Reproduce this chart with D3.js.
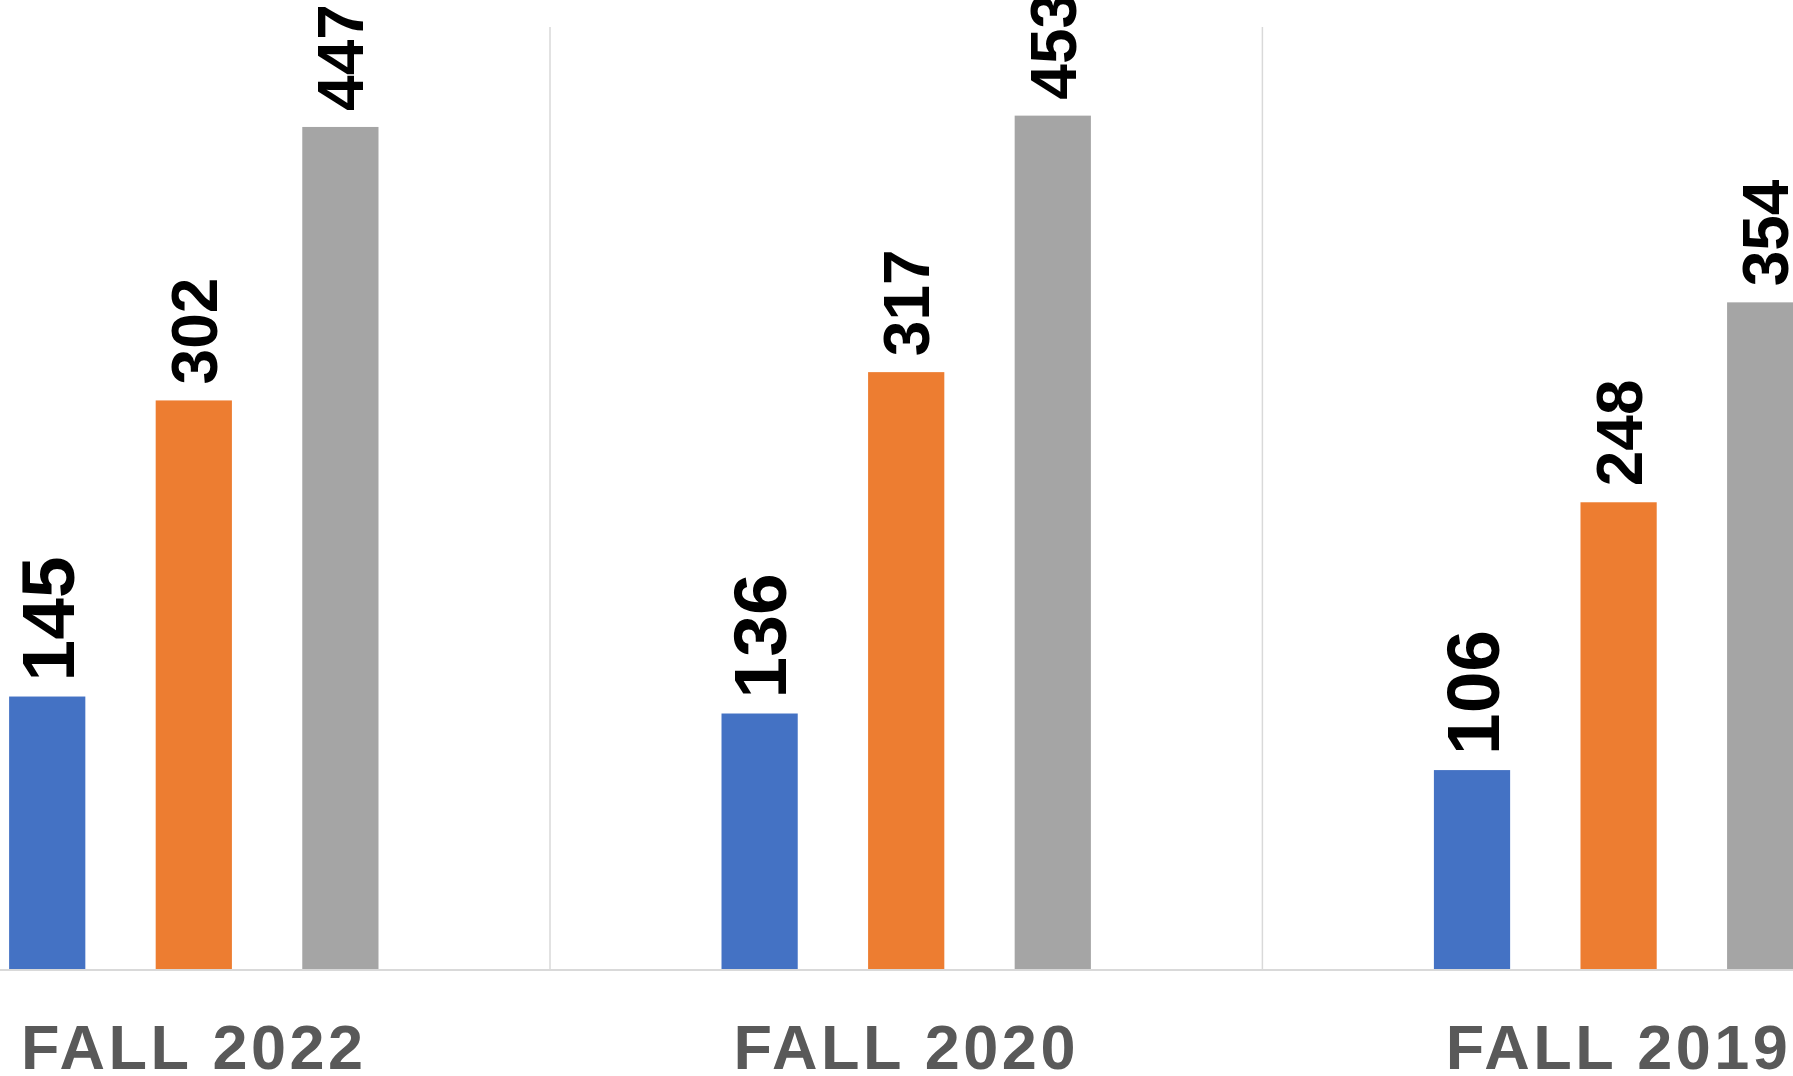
<!DOCTYPE html>
<meta charset="utf-8">
<html lang="en">
<head>
    <meta charset="UTF-8">
    <title>D3</title>
    <script src="https://d3js.org/d3.v7.min.js"></script>
    <style>
        body { margin: 0; background: #fff; }
    </style>
</head>
<body>
    <div id="viz"></div>
    <script>
        // data
        const categories = ["FALL 2022", "FALL 2020", "FALL 2019"];
        const seriesNames = ["s1", "s2", "s3"];
        const seriesColors = ["#4472C4", "#ED7D31", "#A5A5A5"];
        const s1 = [145, 136, 106];
        const s2 = [302, 317, 248];
        const s3 = [447, 453, 354];
        const yDomain = [0, 500];

        const width = 1793;
        const height = 1076;
        const plotTop = 27, plotBottom = 970;
        // first series has larger value labels in the original
        const labelSizes = { s1: 75, s2: 64, s3: 64 };
        const labelGaps = { s1: 15, s2: 16, s3: 16 };

        const data = categories.map((c, i) => ({
            cat: c,
            values: [s1[i], s2[i], s3[i]].map((v, j) => ({ key: seriesNames[j], value: v }))
        }));

        const svg = d3.select("#viz")
            .append("svg")
                .attr("width", width)
                .attr("height", height);

        // the chart is cropped: first and last groups run past the edges
        const x0 = d3.scaleBand()
            .domain(categories)
            .range([-162.4, 1974.8]);

        const x1 = d3.scaleBand()
            .domain(seriesNames)
            .range([0, x0.bandwidth()])
            .paddingInner(0.48)
            .paddingOuter(1.17);

        const y = d3.scaleLinear()
            .domain(yDomain)
            .range([plotBottom, plotTop]);

        const color = d3.scaleOrdinal().domain(seriesNames).range(seriesColors);

        // category separators
        svg.append("g")
            .selectAll("line")
            .data(categories.slice(1))
            .join("line")
                .attr("x1", d => x0(d))
                .attr("x2", d => x0(d))
                .attr("y1", y(yDomain[1]))
                .attr("y2", y(0))
                .attr("stroke", "#d9d9d9")
                .attr("stroke-width", 1.5);

        // bars
        const groups = svg.append("g")
            .selectAll("g")
            .data(data)
            .join("g")
                .attr("transform", d => `translate(${x0(d.cat)},0)`);

        groups.selectAll("rect")
            .data(d => d.values)
            .join("rect")
                .attr("x", d => x1(d.key))
                .attr("width", x1.bandwidth())
                .attr("y", d => y(d.value))
                .attr("height", d => y(0) - y(d.value))
                .attr("fill", d => color(d.key));

        // value labels, rotated
        groups.selectAll("text")
            .data(d => d.values)
            .join("text")
                .attr("transform", d => `translate(${x1(d.key) + x1.bandwidth() / 2 + labelSizes[d.key] * 0.358},${y(d.value) - labelGaps[d.key]}) rotate(-90)`)
                .attr("font-family", "'Liberation Sans', Arial, sans-serif")
                .attr("font-weight", "bold")
                .attr("font-size", d => labelSizes[d.key])
                .attr("fill", "#000")
                .text(d => d.value);

        // x axis
        const xAxis = svg.append("g")
            .attr("transform", `translate(0,${plotBottom})`)
            .call(d3.axisBottom(x0).tickSize(0).tickPadding(0));
        xAxis.select(".domain").remove();
        svg.append("line")
            .attr("x1", 0).attr("x2", width)
            .attr("y1", plotBottom).attr("y2", plotBottom)
            .attr("stroke", "#d9d9d9")
            .attr("stroke-width", 2);
        xAxis.selectAll("text")
            .attr("y", 99)
            .attr("dy", 0)
            .attr("font-family", "'Liberation Sans', Arial, sans-serif")
            .attr("font-weight", "bold")
            .attr("font-size", 63)
            .attr("letter-spacing", "3.5px")
            .attr("fill", "#595959");
    </script>
</body>
</html>
